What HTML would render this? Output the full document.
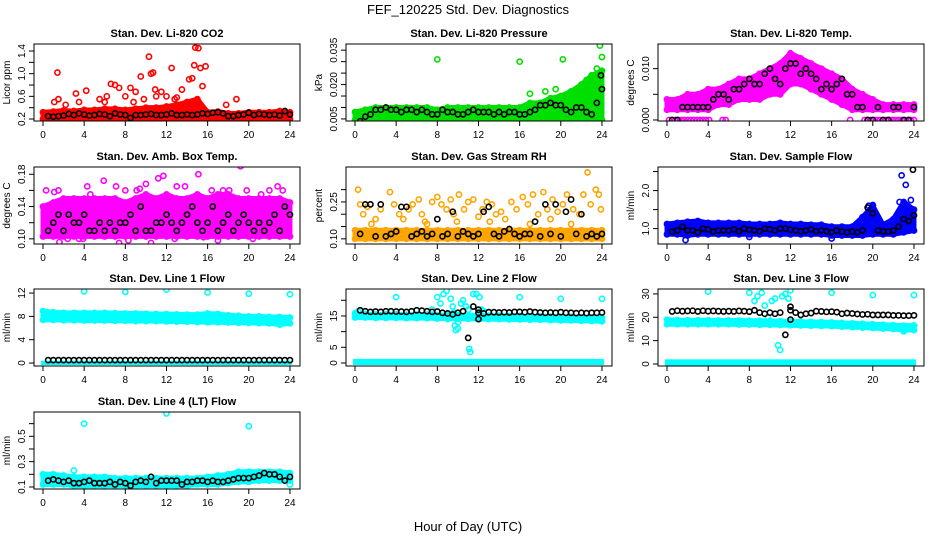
<!DOCTYPE html>
<html><head><meta charset="utf-8"><style>
html,body{margin:0;padding:0;background:#fff}
svg{display:block;font-family:"Liberation Sans",Arial,sans-serif}
</style></head><body>
<svg id="chart" width="936" height="540" viewBox="0 0 936 540" xmlns="http://www.w3.org/2000/svg">
<rect x="0" y="0" width="936" height="540" fill="#fff"/>
<text x="468" y="14" text-anchor="middle" font-size="13">FEF_120225  Std. Dev. Diagnostics</text>
<text x="468" y="531" text-anchor="middle" font-size="13">Hour of Day (UTC)</text>
<g id="panels"></g>
</svg>
<script>
// ---- data ----
const xTicks = [0,4,8,12,16,20,24];
const titles = ["Stan. Dev. Li-820 CO2","Stan. Dev. Li-820 Pressure","Stan. Dev. Li-820 Temp.","Stan. Dev. Amb. Box Temp.","Stan. Dev. Gas Stream RH","Stan. Dev. Sample Flow","Stan. Dev. Line 1 Flow","Stan. Dev. Line 2 Flow","Stan. Dev. Line 3 Flow","Stan. Dev. Line 4 (LT) Flow"];
const yTitles = ["Licor ppm","kPa","degrees C","degrees C","percent","ml/min","ml/min","ml/min","ml/min","ml/min"];
const colors = ["#ff0000","#00e000","#ff00ff","#ff00ff","#ffa500","#0000ff","#00ffff","#00ffff","#00ffff","#00ffff"];
const yLims = [[0.165,1.524],[0.0041,0.0377],[-0.0002,0.0148],[0.0936,0.189],[0.079,0.392],[0.595,2.62],[-0.51,12.7],[-0.96,23.6],[-0.86,32.1],[0.084,0.692]];
const yTickVals = [[0.2,0.4,0.6,0.8,1.0,1.2,1.4],[0.005,0.01,0.015,0.02,0.025,0.03,0.035],[0,0.005,0.01],[0.10,0.12,0.14,0.16,0.18],[0.10,0.15,0.20,0.25,0.30],[1.0,1.5,2.0,2.5],[0,4,8,12],[0,5,10,15,20],[0,10,20,30],[0.1,0.2,0.3,0.4,0.5,0.6]];
const yTickLabels = [["0.2","","0.6","","1.0","","1.4"],["0.005","","","0.020","","","0.035"],["0.000","","0.010"],["0.10","","0.14","","0.18"],["0.10","","","0.25",""],["1.0","","2.0",""],["0","4","8","12"],["0","5","","15",""],["0","10","20","30"],["0.1","","0.3","","0.5",""]];

// hourly band edges (25 values, hours 0..24)
const bandLo = [
 [0.2,0.2,0.2,0.2,0.2,0.2,0.2,0.2,0.2,0.2,0.2,0.2,0.2,0.2,0.2,0.2,0.2,0.2,0.2,0.2,0.2,0.2,0.2,0.2,0.2],
 [0.0045,0.0045,0.0045,0.0045,0.0045,0.0045,0.0045,0.0045,0.0045,0.0045,0.0045,0.0045,0.0045,0.0045,0.0045,0.0045,0.0045,0.0045,0.0045,0.0045,0.0045,0.0045,0.0045,0.0045,0.0045],
 [0.002,0.002,0.002,0.002,0.002,0.003,0.003,0.004,0.004,0.004,0.005,0.005,0.007,0.007,0.006,0.005,0.004,0.003,0.002,0.002,0.002,0.002,0.002,0.002,0.002],
 [0.103,0.103,0.103,0.103,0.103,0.103,0.103,0.103,0.103,0.103,0.103,0.103,0.103,0.103,0.103,0.103,0.103,0.103,0.103,0.103,0.103,0.103,0.103,0.103,0.103],
 [0.10,0.10,0.10,0.10,0.10,0.10,0.10,0.10,0.10,0.10,0.10,0.10,0.10,0.10,0.10,0.10,0.10,0.10,0.10,0.10,0.10,0.10,0.10,0.10,0.10],
 [0.85,0.85,0.82,0.85,0.85,0.85,0.85,0.85,0.85,0.85,0.85,0.85,0.85,0.85,0.85,0.85,0.82,0.82,0.82,0.82,0.85,0.85,0.85,0.9,0.95],
 [7.4,7.4,7.35,7.35,7.3,7.3,7.3,7.25,7.25,7.2,7.2,7.2,7.15,7.1,7.1,7.05,7.0,7.0,6.95,6.9,6.9,6.85,6.8,6.6,6.8],
 [14.5,14.5,14.4,14.4,14.4,14.3,14.3,14.3,14.2,14.2,14.1,14.1,14.0,14.0,14.0,13.9,13.9,13.8,13.8,13.7,13.6,13.6,13.5,13.4,13.3],
 [17.0,17.0,17.0,17.0,17.0,17.0,17.0,16.9,16.9,16.8,16.8,16.7,16.6,16.5,16.4,16.3,16.2,16.0,15.8,15.6,15.4,15.2,15.0,14.6,14.5],
 [0.12,0.12,0.12,0.11,0.11,0.11,0.11,0.11,0.11,0.11,0.11,0.11,0.11,0.11,0.11,0.12,0.12,0.12,0.13,0.14,0.14,0.15,0.15,0.15,0.15]
];
const bandHi = [
 [0.32,0.33,0.35,0.34,0.36,0.36,0.38,0.38,0.36,0.38,0.40,0.40,0.42,0.45,0.50,0.55,0.32,0.33,0.30,0.30,0.32,0.32,0.32,0.34,0.32],
 [0.008,0.009,0.010,0.010,0.010,0.010,0.010,0.010,0.009,0.010,0.010,0.010,0.010,0.010,0.010,0.010,0.010,0.012,0.012,0.014,0.015,0.017,0.020,0.024,0.026],
 [0.004,0.004,0.005,0.005,0.006,0.006,0.007,0.008,0.008,0.009,0.010,0.011,0.013,0.012,0.011,0.010,0.009,0.008,0.006,0.005,0.004,0.003,0.003,0.003,0.003],
 [0.14,0.145,0.15,0.15,0.15,0.15,0.15,0.15,0.145,0.15,0.155,0.15,0.155,0.15,0.15,0.155,0.15,0.155,0.155,0.15,0.15,0.15,0.15,0.15,0.145],
 [0.135,0.135,0.135,0.135,0.135,0.135,0.135,0.135,0.135,0.135,0.135,0.135,0.135,0.135,0.135,0.135,0.135,0.135,0.135,0.135,0.135,0.135,0.135,0.135,0.135],
 [1.12,1.15,1.18,1.2,1.15,1.15,1.15,1.15,1.12,1.12,1.12,1.15,1.12,1.12,1.1,1.1,1.05,1.05,1.05,1.3,1.6,1.1,1.25,1.7,1.5],
 [8.9,8.7,8.6,8.6,8.6,8.6,8.6,8.55,8.5,8.5,8.45,8.4,8.4,8.35,8.3,8.3,8.5,8.4,8.2,8.1,8.0,8.0,7.9,7.9,7.8],
 [15.8,15.6,15.5,15.5,15.5,15.4,15.4,15.4,15.3,15.3,15.3,15.2,15.2,15.1,15.1,15.0,15.0,14.9,14.9,14.8,14.7,14.7,14.6,14.5,14.5],
 [19.0,18.8,18.7,18.7,18.7,18.6,18.6,18.6,18.5,18.5,18.4,18.3,18.2,18.1,18.0,17.9,17.8,17.6,17.4,17.2,17.0,16.8,16.6,16.4,16.5],
 [0.2,0.2,0.19,0.18,0.18,0.18,0.18,0.17,0.17,0.17,0.17,0.17,0.17,0.17,0.17,0.17,0.18,0.19,0.2,0.22,0.22,0.22,0.22,0.22,0.21]
];
// second (floor) band for line-flow panels: [lo, hi]
const floorBand = [null,null,null,null,null,null,[0,0.4],[0,1.3],[0,2.0],null];

// colored outlier points (hours, values)
const outH = [
 [1.4,1.5,1.1,2.2,3.2,4.2,3.5,5.5,6.2,6.6,7,7.4,8,8.5,9,9.5,10.3,10.5,10.7,10.9,11.5,12.5,13.5,14.2,14.5,14.7,14.8,15.1,15.3,15.5,15.8,12,13,9.8,18.8,17.8,6,11,8.8,12.8],
 [8,16,20.2,23.8,24,17,18.5,19.5,22.5,23,23.5],
 [0.2,0.5,0.8,1.1,1.4,1.7,2.0,2.3,2.6,2.9,3.2,3.5,3.8,4.1,5.4,5.7,17.8,19.2,19.5,19.8,20.1,20.4,20.7,21,21.3,21.6,21.9,22.2,22.5,22.8,23.1,23.4,23.7,24],
 [0.3,0.9,1.1,1.5,1.6,2.7,3.5,3.9,4.3,4.6,5.2,5.9,6.7,7.1,8,8.3,9.1,9.4,10,10.5,11.2,11.7,12.1,13,13.8,14.4,15.1,15.6,16.4,17.5,18.1,19.2,19.8,20.4,21.2,22,22.8,23.3,23.6,2.4,7.4,12.8,17],
 [0.3,0.5,0.8,1.2,2,2.5,3.4,3.8,4.3,4.7,5.2,5.6,6.2,6.5,7,7.5,8,8.4,8.9,9.3,9.6,10.1,10.6,11,11.5,12,12.4,12.8,13.3,13.7,14.2,14.6,15.2,15.7,16.3,16.8,17.3,17.8,18.3,18.7,19.2,19.7,20.2,20.6,21.2,21.8,22.2,22.6,22.9,23.4,23.7,23.9,1.6,6.8,9.9,13.1,17,21,19],
 [1.8,8,16,19.6,20,22.8,23.2,23.7,23.4,22.6],
 [4,8,12,16,20,24],
 [0.3,4,8,8.3,8.6,8.9,9.3,9.5,9.6,9.7,9.8,10,10.3,10.5,10.8,11,11.1,11.2,11.5,11.8,12.1,16,20,24,12.3,12.5,7.5,9,10],
 [4,8,8.5,8.8,9.2,9.5,9.8,10.2,10.5,10.8,11,11.2,11.5,11.8,12,16,20,24,23,23.5],
 [4,12,20,3,24]
];
const outV = [
 [1.02,0.55,0.5,0.45,0.65,0.7,0.5,0.55,0.6,0.82,0.8,0.75,0.6,0.75,0.68,0.95,1.3,1.0,1.02,0.72,0.68,1.1,0.72,0.9,0.92,1.15,1.46,1.45,1.1,0.78,1.13,0.6,0.58,0.55,0.55,0.45,0.5,0.6,0.5,0.55],
 [0.031,0.030,0.031,0.037,0.032,0.016,0.017,0.018,0.022,0.024,0.027],
 [0,0,0,0,0,0,0,0,0,0,0,0,0,0,0,0,0,0,0,0,0,0,0,0,0,0,0,0,0,0,0,0,0,0],
 [0.16,0.14,0.158,0.16,0.096,0.125,0.1,0.1,0.165,0.155,0.11,0.172,0.105,0.165,0.16,0.098,0.16,0.162,0.168,0.095,0.175,0.178,0.108,0.165,0.165,0.105,0.18,0.102,0.16,0.16,0.16,0.19,0.16,0.1,0.155,0.16,0.165,0.16,0.11,0.1,0.095,0.1,0.098],
 [0.30,0.24,0.2,0.23,0.18,0.22,0.29,0.24,0.2,0.18,0.22,0.24,0.26,0.2,0.16,0.25,0.27,0.24,0.22,0.26,0.2,0.28,0.22,0.25,0.26,0.19,0.22,0.25,0.24,0.2,0.21,0.18,0.25,0.22,0.27,0.24,0.28,0.2,0.29,0.22,0.26,0.21,0.24,0.28,0.22,0.2,0.28,0.37,0.24,0.3,0.28,0.22,0.16,0.17,0.17,0.17,0.16,0.16,0.18],
 [0.7,0.78,0.74,1.6,1.62,2.4,2.15,1.75,1.5,1.7],
 [12.3,12.2,12.6,12.1,11.9,11.8],
 [16.5,21,21,19,22,23,20.5,18,16,12,10.5,11,19,20,18,17,4.5,3.5,22,22,21,21,20.5,20.5,17,16.5,17,14,13],
 [31,30.5,27,29,30.5,25,20,27,28,8,6,29,30,28,31.5,30.5,29.5,29.5,14,16],
 [0.6,0.68,0.58,0.23,0.12]
];
// black points every half hour (t = 0.5 .. 24)
const blackV = [
 [0.25,0.24,0.25,0.26,0.29,0.27,0.30,0.28,0.26,0.27,0.29,0.28,0.25,0.30,0.28,0.27,0.22,0.27,0.27,0.28,0.29,0.27,0.27,0.28,0.30,0.27,0.27,0.28,0.27,0.28,0.30,0.29,0.31,0.32,0.30,0.25,0.25,0.27,0.28,0.31,0.27,0.29,0.28,0.27,0.28,0.26,0.34,0.28],
 [0.004,0.006,0.007,0.009,0.009,0.010,0.009,0.009,0.008,0.009,0.009,0.008,0.009,0.008,0.007,0.007,0.009,0.008,0.008,0.007,0.007,0.008,0.009,0.008,0.008,0.008,0.007,0.008,0.007,0.008,0.008,0.007,0.007,0.008,0.009,0.011,0.011,0.012,0.011,0.011,0.009,0.008,0.010,0.010,0.008,0.007,0.012,0.018],
 [0,0,0.0025,0.0025,0.0025,0.0025,0.0025,0.0025,0.004,0.005,0.005,0.004,0.006,0.006,0.007,0.008,0.007,0.007,0.009,0.010,0.008,0.007,0.010,0.011,0.011,0.009,0.010,0.009,0.008,0.006,0.007,0.006,0.007,0.008,0.005,0.005,0.0025,0.0025,0,0,0.0025,0,0,0.0025,0.0025,0,0,0.0025],
 [0.11,0.12,0.13,0.11,0.13,0.12,0.12,0.13,0.11,0.11,0.12,0.11,0.12,0.11,0.12,0.12,0.13,0.11,0.14,0.11,0.11,0.12,0.12,0.13,0.12,0.11,0.12,0.13,0.14,0.12,0.11,0.12,0.14,0.11,0.12,0.13,0.11,0.12,0.13,0.12,0.11,0.12,0.11,0.12,0.13,0.11,0.14,0.13],
 [0.12,0.24,0.24,0.11,0.24,0.11,0.12,0.13,0.23,0.23,0.11,0.12,0.13,0.11,0.12,0.18,0.11,0.12,0.21,0.11,0.13,0.12,0.11,0.12,0.21,0.23,0.12,0.11,0.13,0.14,0.12,0.11,0.12,0.12,0.17,0.11,0.24,0.12,0.24,0.11,0.21,0.26,0.12,0.2,0.11,0.12,0.11,0.12],
 [0.92,0.95,1.05,0.95,0.95,0.9,1.0,0.98,0.92,0.95,0.95,0.95,0.98,0.93,1.0,0.97,0.95,0.93,1.0,0.98,0.95,1.0,1.0,0.97,0.95,0.93,0.95,0.98,0.93,0.95,0.93,0.9,0.95,0.92,0.9,0.92,0.9,0.95,1.55,1.4,0.95,0.93,0.92,0.95,1.05,1.25,1.2,1.35],
 [0.5,0.5,0.5,0.5,0.5,0.5,0.5,0.5,0.5,0.5,0.5,0.5,0.5,0.5,0.5,0.5,0.5,0.5,0.5,0.5,0.5,0.5,0.5,0.5,0.5,0.5,0.5,0.5,0.5,0.5,0.5,0.5,0.5,0.5,0.5,0.5,0.5,0.5,0.5,0.5,0.5,0.5,0.5,0.5,0.5,0.5,0.5,0.5],
 [16.8,16.5,16.3,16.4,16.3,16.5,16.5,16.4,16.4,16.3,16.5,16.8,16.7,16.5,16.3,16.4,16,15.8,15.5,16,16.5,8,18,16,15.8,16.2,16.2,16.1,16.2,16.1,16.3,16.3,16.2,16.4,16.2,16.1,16,16.1,16,16.2,16,16,15.9,16,15.9,16,16,16.1],
 [22.5,22.8,22.6,22.7,22.8,22.5,22.8,22.6,22.7,22.6,22.5,22.6,22.5,22.7,22.6,22.4,23,22,21.5,22,21.5,22,12.5,24.5,22,21,21.5,21.8,22.6,22.5,22.3,22.4,22.2,21.5,21.8,21.6,21.4,21.2,21.3,21,21,21,21,20.8,20.8,20.7,20.7,20.8],
 [0.15,0.16,0.15,0.14,0.15,0.13,0.13,0.14,0.15,0.13,0.13,0.13,0.14,0.12,0.14,0.13,0.11,0.14,0.15,0.14,0.18,0.13,0.15,0.15,0.15,0.15,0.12,0.14,0.14,0.15,0.15,0.14,0.15,0.14,0.14,0.15,0.16,0.17,0.17,0.17,0.18,0.19,0.21,0.2,0.2,0.18,0.15,0.18]
];
const blackExtraH = [[],[23.9],[],[],[],[23.9],[],[12,12],[12,12],[]];
const blackExtraV = [[],[0.024],[],[],[],[2.55],[],[14,17],[19,23],[]];

// ---- drawing ----
const NS = "http://www.w3.org/2000/svg";
const root = document.getElementById("panels");
const rowTop = [44,167,289,412], H = 77, W = 266, PXH = 10.29;
function mk(tag, attrs, parent){ const e=document.createElementNS(NS,tag); for(const k in attrs) e.setAttribute(k,attrs[k]); parent.appendChild(e); return e; }

titles.forEach((title,i)=>{
  const col=i%3, row=Math.floor(i/3);
  const L=34+312*col, T=rowTop[row], B=T+H;
  const [y0,y1]=yLims[i];
  const xs=h=>L+9+h*PXH;
  const ys=v=>B-(v-y0)/(y1-y0)*H;
  const g=mk("g",{},root);
  
  
  const clipId='clip'+i;
  const cp=mk("clipPath",{id:clipId},g); mk("rect",{x:L,y:T,width:W,height:H},cp);
  const t=mk("text",{x:L+W/2,y:T-7,"text-anchor":"middle","font-size":"11","font-weight":"bold"},g);
  t.textContent=title;
  
  
  const yt=mk("text",{x:L-24,y:(T+B)/2,"text-anchor":"middle","font-size":"10",transform:`rotate(-90 ${L-24} ${(T+B)/2})`},g);
  yt.textContent=yTitles[i];
  
  
  const pg=mk("g",{"clip-path":`url(#${clipId})`},g);
  
  
  const c=colors[i];
  const hours=bandLo[i].map((_,k)=>k);
  // main band
  let pts=hours.map(h=>xs(h)+","+ys(bandHi[i][h])).concat(hours.slice().reverse().map(h=>xs(h)+","+ys(bandLo[i][h])));
  const band=mk("polygon",{points:pts.join(" "),fill:c,stroke:c,"stroke-width":"5","stroke-linejoin":"round"},pg);
  
  
  if(floorBand[i]){
    const fb=floorBand[i];
    const r=mk("rect",{x:xs(0)-2,y:ys(fb[1]),width:xs(24)-xs(0)+4,height:ys(fb[0])-ys(fb[1])+2,fill:c},pg);
    
    
  }
  hours.forEach(h=>{
    [bandLo[i][h],bandHi[i][h]].forEach(v=>{
      const p=mk("circle",{cx:xs(h),cy:ys(v),r:2.6,fill:"none",stroke:c,"stroke-width":"1.6"},pg);
      
      
    });
  });
  outH[i].forEach((h,k)=>{
    const p=mk("circle",{cx:xs(h),cy:ys(outV[i][k]),r:2.6,fill:"none",stroke:c,"stroke-width":"1.6"},pg);
    
    
  });
  blackV[i].forEach((v,k)=>{
    const p=mk("circle",{cx:xs(0.5+0.5*k),cy:ys(v),r:2.6,fill:"none",stroke:"#000","stroke-width":"1.6"},pg);
    
    
  });
  blackExtraH[i].forEach((h,k)=>{
    const p=mk("circle",{cx:xs(h),cy:ys(blackExtraV[i][k]),r:2.6,fill:"none",stroke:"#000","stroke-width":"1.6"},pg);
    
    
  });
  const box=mk("rect",{x:L,y:T,width:W,height:H,fill:"none",stroke:"#000","stroke-width":"1"},g);
  
  
  // x axis
  const xa=mk("g",{},g);
  
  
  mk("line",{x1:xs(0),x2:xs(24),y1:B,y2:B,stroke:"#000"},xa);
  xTicks.forEach(h=>{
    mk("line",{x1:xs(h),x2:xs(h),y1:B,y2:B+5,stroke:"#000"},xa);
    const tl=mk("text",{x:xs(h),y:B+17,"text-anchor":"middle","font-size":"10"},xa);
    tl.textContent=h;
    
    
  });
  // y axis
  const ya=mk("g",{},g);
  
  
  const tv=yTickVals[i];
  mk("line",{x1:L,x2:L,y1:ys(tv[0]),y2:ys(tv[tv.length-1]),stroke:"#000"},ya);
  tv.forEach((v,k)=>{
    mk("line",{x1:L-5,x2:L,y1:ys(v),y2:ys(v),stroke:"#000"},ya);
    if(yTickLabels[i][k]){
      const tx=L-9, ty=ys(v);
      const tl=mk("text",{x:tx,y:ty,"text-anchor":"middle","font-size":"10",transform:`rotate(-90 ${tx} ${ty})`},ya);
      tl.textContent=yTickLabels[i][k];
      
      
    }
  });
});
</script>
</body></html>
